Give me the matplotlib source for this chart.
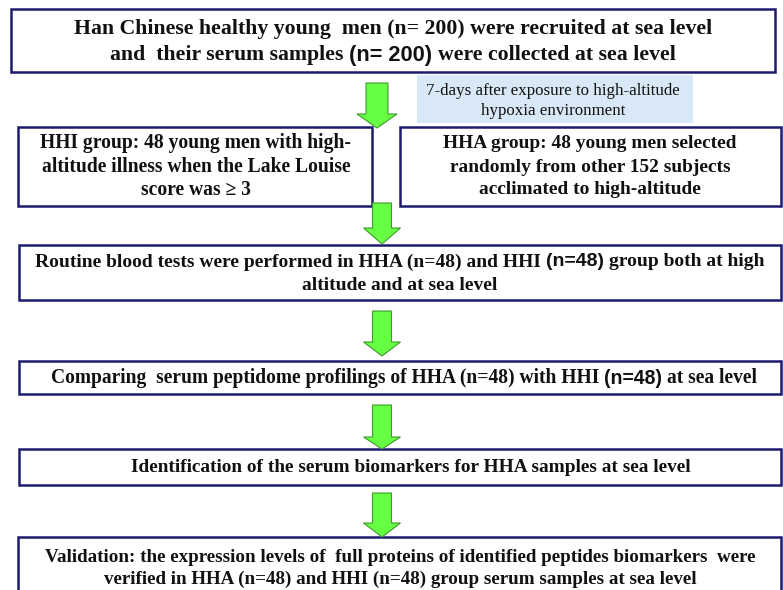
import matplotlib
matplotlib.use("Agg")
import matplotlib.pyplot as plt
from matplotlib.patches import Rectangle, Polygon

W, H = 783, 590
SERIF = "Liberation Serif"
SANS = "Liberation Sans"

# ---- content (text) ----
top_lines = [
    [("Han Chinese healthy young  men (n= 200) were recruited at sea level", SERIF)],
    [("and  their serum samples", SERIF), ("(n= 200)", SANS), ("were collected at sea level", SERIF)],
]
note_lines = [
    [("7-days after exposure to high-altitude", SERIF)],
    [("hypoxia environment", SERIF)],
]
hhi_lines = [
    [("HHI group: 48 young men with high-", SERIF)],
    [("altitude illness when the Lake Louise", SERIF)],
    [("score was \u2265 3", SERIF)],
]
hha_lines = [
    [("HHA group: 48 young men selected", SERIF)],
    [("randomly from other 152 subjects", SERIF)],
    [("acclimated to high-altitude", SERIF)],
]
routine_lines = [
    [("Routine blood tests were performed in HHA (n=48) and HHI", SERIF), ("(n=48)", SANS),
     ("group both at high", SERIF)],
    [("altitude and at sea level", SERIF)],
]
compare_lines = [
    [("Comparing  serum peptidome profilings of HHA (n=48) with HHI", SERIF), ("(n=48)", SANS),
     ("at sea level", SERIF)],
]
ident_lines = [
    [("Identification of the serum biomarkers for HHA samples at sea level", SERIF)],
]
valid_lines = [
    [("Validation: the expression levels of  full proteins of identified peptides biomarkers  were", SERIF)],
    [("verified in HHA (n=48) and HHI (n=48) group serum samples at sea level", SERIF)],
]

# ---- layout ----
EDGE = "#1e1b6e"
GREEN = "#66ff44"
GREEN_EDGE = "#3f9a2c"
NOTE_BG = "#d9e8f6"

fig = plt.figure(figsize=(W / 100, H / 100), dpi=100)
ax = fig.add_axes([0, 0, 1, 1])
ax.set_xlim(0, W)
ax.set_ylim(H, 0)
ax.axis("off")

boxes = [
    (11, 9, 775, 72),
    (18, 127, 372, 206),
    (400, 127, 781, 206),
    (19, 245, 781, 300),
    (19, 361, 781, 394),
    (19, 449, 781, 485),
    (18, 537, 781, 605),
]
for x0, y0, x1, y1 in boxes:
    ax.add_patch(Rectangle((x0, y0), x1 - x0, y1 - y0, facecolor="white",
                           edgecolor=EDGE, lw=1.8, zorder=2))

ax.add_patch(Rectangle((417, 75), 693 - 417, 123 - 75, facecolor=NOTE_BG,
                       edgecolor="none", zorder=1))

# arrows: cx, top, head base, tip, shaft half width, head half width
arrows = [
    (377, 83, 114, 128, 11, 20),
    (382, 203, 228, 244, 9.5, 18.5),
    (382, 311, 342, 356, 9.5, 18.5),
    (382, 405, 437, 449, 9.5, 18.5),
    (382, 493, 523, 537, 9.5, 18.5),
]
for cx, yt, yb, ytip, sw, hw in arrows:
    pts = [(cx - sw, yt), (cx + sw, yt), (cx + sw, yb), (cx + hw, yb),
           (cx, ytip), (cx - hw, yb), (cx - sw, yb)]
    ax.add_patch(Polygon(pts, closed=True, facecolor=GREEN, edgecolor=GREEN_EDGE,
                         lw=0.8, zorder=4))

fig.canvas.draw()
renderer = fig.canvas.get_renderer()


def width_of(s, fam, size, weight):
    t = ax.text(0, 0, s, family=fam, fontsize=size, weight=weight)
    w = t.get_window_extent(renderer).width
    t.remove()
    return w


def line_width(segs, size, weight):
    sp = width_of("a a", SERIF, size, weight) - width_of("aa", SERIF, size, weight)
    ws = [width_of(s, f, size, weight) for s, f in segs]
    return ws, sp, sum(ws) + sp * (len(segs) - 1)


def draw_block(lines, ref_idx, ref_width, cx, ys, weight="bold", color="#111111"):
    base = 10.0
    _, _, tw = line_width(lines[ref_idx], base, weight)
    size = base * ref_width / tw
    for segs, y in zip(lines, ys):
        ws, sp, total = line_width(segs, size, weight)
        x = cx - total / 2
        for (s, f), w in zip(segs, ws):
            ax.text(x, y, s, family=f, fontsize=size, weight=weight, color=color,
                    ha="left", va="center", zorder=5)
            x += w + sp
    return size


draw_block(top_lines, 0, 640, 393, [29, 55])
draw_block(note_lines, 0, 254, 553, [91, 111], weight="normal")
draw_block(hha_lines, 0, 295, 590, [143, 167, 190])
draw_block(hhi_lines, 1, 310, 196, [143, 167, 190])
draw_block(routine_lines, 0, 730, 400, [262, 285])
draw_block(compare_lines, 0, 709, 404, [378])
draw_block(ident_lines, 0, 562, 411, [467])
draw_block(valid_lines, 0, 711, 400, [557, 579])

fig.savefig("out.png", dpi=100)
